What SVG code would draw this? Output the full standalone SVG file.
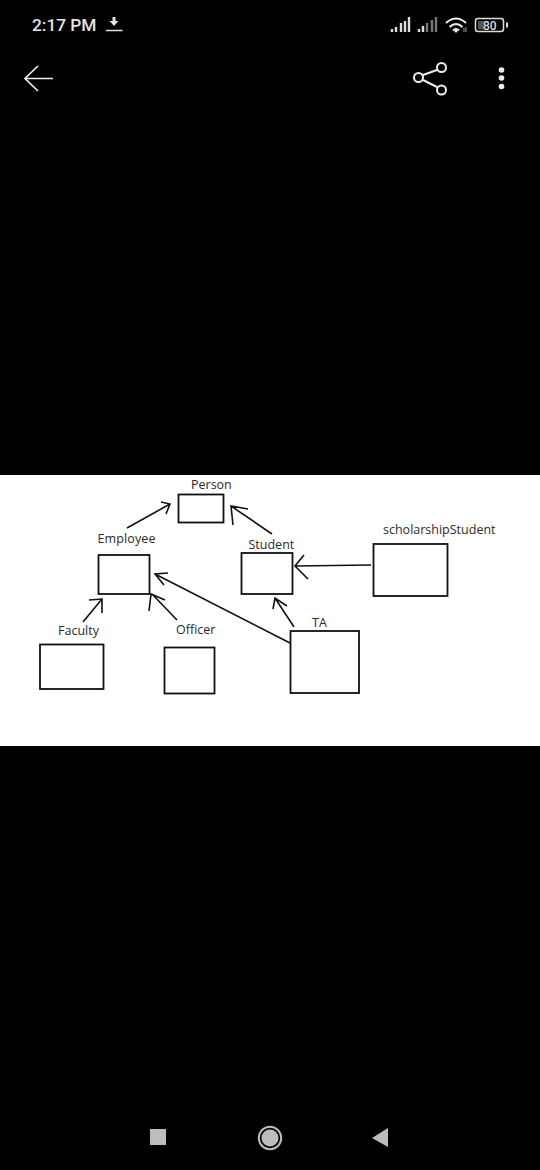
<svg xmlns="http://www.w3.org/2000/svg" width="540" height="1170" viewBox="0 0 540 1170">
<style>
.box{fill:#fff;stroke:#111;stroke-width:1.8}
.lbl{font-family:"Open Sans","Noto Sans",sans-serif;font-size:12.5px;fill:#2a2a2a}
.con{fill:none;stroke:#111;stroke-width:1.6}
.ic{fill:none;stroke:#eee;stroke-width:2}
.sig{stroke-width:2.4;fill:none}
.nav{fill:#bdbdbd}
</style>
<rect width="540" height="1170" fill="#000"/>
<rect y="475" width="540" height="271" fill="#fff"/>
<g id="statusbar">
<text x="32" y="31" font-family="Roboto,sans-serif" font-weight="500" font-size="17.300px" fill="#e4e4e4">2:17 PM</text>
<path d="M112.500 17h3v4h3l-4.500 5-4.500-5h3z" fill="#e4e4e4"/><path d="M106 30.500h16.500" stroke="#e4e4e4" stroke-width="1.500"/>
<path class="sig" stroke="#ddd" d="M392 29v3M396 27v5M401 23v9M405 21v11M409 17v15"/>
<path class="sig" stroke="#ddd" d="M419 29v3M423 26v6"/><path class="sig" stroke="#777" d="M427 23v9M432 20v12M436 17v15"/>
<path d="M446 23q10-9 20 0M449.500 27q6.500-6 13 0M453 30.500q3-3 6 0" class="ic"/><circle cx="456" cy="31" r="1.500" fill="#eee"/><path d="M464 28v4M466 27v5" stroke="#999"/>
<rect x="475.500" y="18.500" width="28" height="13" rx="2.500" fill="none" stroke="#ddd" stroke-width="1.500"/><rect x="478" y="21" width="6" height="8.500" fill="#555"/>
<text x="483" y="29.500" font-family="Roboto,sans-serif" font-weight="500" font-size="12px" fill="#ddd">80</text><rect x="506" y="22.500" width="2" height="5" fill="#ddd"/>
</g>
<g id="toolbar">
<path d="M53 78.500H26M38 66L25 78.500L38 91" fill="none" stroke="#eee" stroke-width="1.700"/>
<path class="ic" d="M423 75L437 70M423 80L437 87"/>
<circle class="ic" cx="441.500" cy="67.500" r="4.500"/><circle class="ic" cx="418.500" cy="77.500" r="4.500"/><circle class="ic" cx="441.500" cy="90" r="4.500"/>
<circle cx="501.500" cy="70" r="2.800" fill="#eee"/><circle cx="501.500" cy="78" r="2.800" fill="#eee"/><circle cx="501.500" cy="86.500" r="2.800" fill="#eee"/>
</g>
<g id="connectors">
<path class="con" d="M127 528L170 504M161 502L170 504L166 514"/>
<path class="con" d="M272 534L231 506M248 509L231 506L233 525"/>
<path class="con" d="M290 643L155 574M168 573L155 574L164 585"/>
<path class="con" d="M83 622L102 599M89 600L102 599L102 613"/>
<path class="con" d="M177 620L152 594M165 600L151 594L149 611"/>
<path class="con" d="M371 565L295 566M304 555L295 566L308 579"/>
<path class="con" d="M294 627L275 598M287 606L275 598L273 609"/>
</g>
<g id="person"><rect class="box" x="178.500" y="494.500" width="45" height="28"/><text class="lbl" x="191" y="489">Person</text></g>
<g id="employee"><rect class="box" x="98.500" y="555" width="51" height="39"/><text class="lbl" x="97.500" y="542.500" textLength="58">Employee</text></g>
<g id="student"><rect class="box" x="241.500" y="553" width="51" height="41"/><text class="lbl" x="248.500" y="548.500">Student</text></g>
<g id="scholarshipStudent"><rect class="box" x="373.500" y="544" width="74" height="52"/><text class="lbl" x="383" y="533.500">scholarshipStudent</text></g>
<g id="ta"><rect class="box" x="290.500" y="631" width="68.500" height="62"/><text class="lbl" x="312" y="626.500">TA</text></g>
<g id="faculty"><rect class="box" x="40" y="644.500" width="63.500" height="44.500"/><text class="lbl" x="58" y="635">Faculty</text></g>
<g id="officer"><rect class="box" x="164.500" y="647.500" width="50" height="46"/><text class="lbl" x="176" y="634">Officer</text></g>
<g id="navbar">
<rect class="nav" x="150" y="1129" width="16" height="16"/>
<circle cx="270" cy="1138" r="11.200" fill="none" stroke="#bdbdbd" stroke-width="2"/><circle class="nav" cx="270" cy="1138" r="8.500"/>
<path class="nav" d="M372 1138L388 1128V1147Z"/>
</g>
</svg>
